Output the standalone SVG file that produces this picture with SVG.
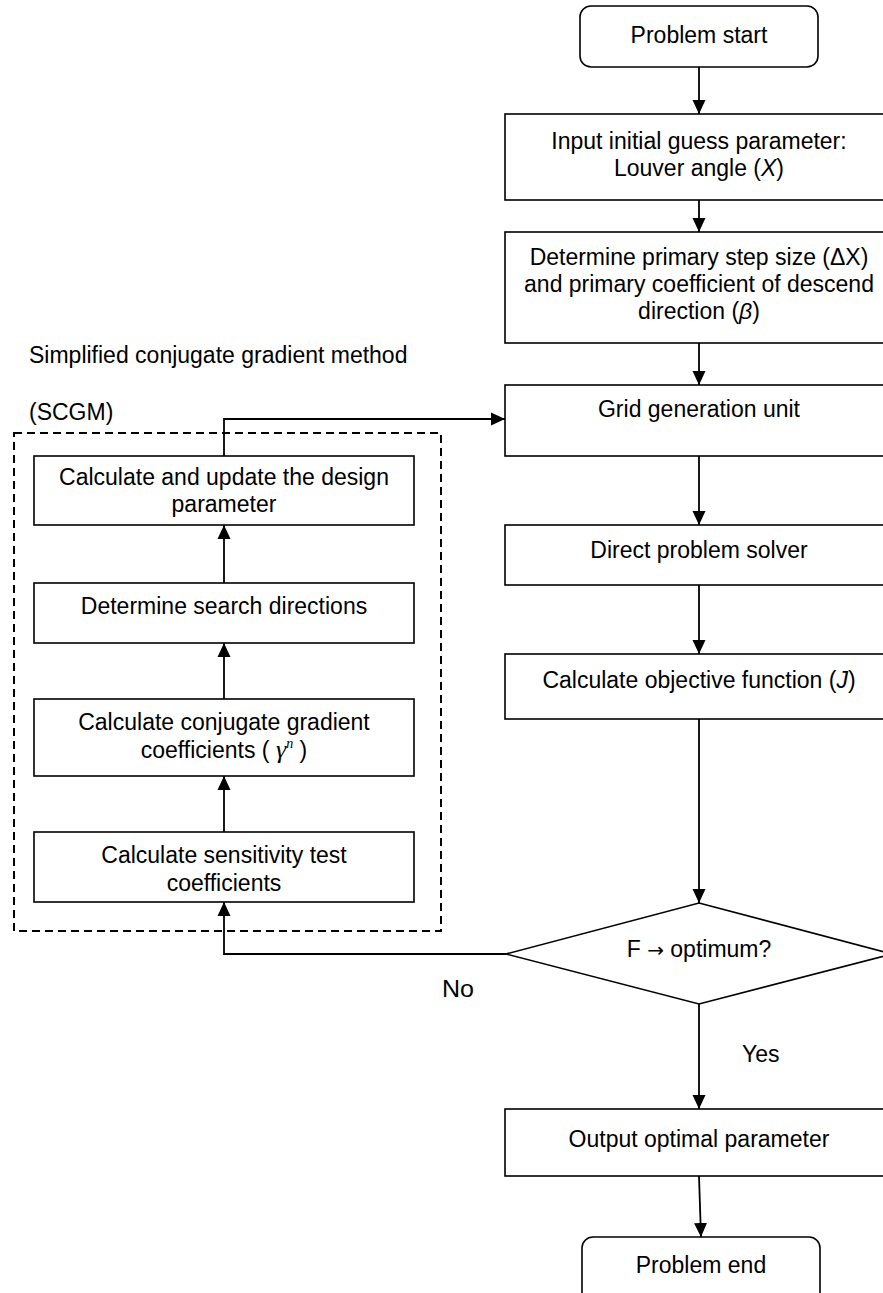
<svg xmlns="http://www.w3.org/2000/svg" width="883" height="1293" viewBox="0 0 883 1293">
<style>
.box{fill:#fff;stroke:#000;stroke-width:1.6}
.t{font-family:"Liberation Sans",Arial,sans-serif;font-size:23px;fill:#000;text-anchor:middle}
.tl{font-family:"Liberation Sans",Arial,sans-serif;font-size:23px;fill:#000}
.c{fill:none;stroke:#000;stroke-width:1.8}
.i{font-style:italic}
.g{font-family:"Liberation Serif","Times New Roman",serif;font-style:italic}
</style>
<defs>
<marker id="ah" markerUnits="userSpaceOnUse" markerWidth="15" markerHeight="15" viewBox="0 0 15 15" refX="14" refY="7" orient="auto">
<path d="M0,0.5 L14,7 L0,13.5 Z" fill="#000"/>
</marker>
</defs>
<rect width="883" height="1293" fill="#fff"/>

<g id="scgm-label">
<text class="tl" x="29" y="363">Simplified conjugate gradient method</text>
<text class="tl" x="29" y="420">(SCGM)</text>
</g>
<g id="scgm-frame">
<rect x="14" y="433" width="427" height="498" fill="none" stroke="#000" stroke-width="2" stroke-dasharray="8 5"/>
</g>

<g id="start">
<rect class="box" x="580" y="6" width="238" height="61" rx="11"/>
<text class="t" x="699" y="43">Problem start</text>
</g>
<g id="input">
<rect class="box" x="505" y="114" width="400" height="86"/>
<text class="t" x="699" y="149">Input initial guess parameter:</text>
<text class="t" x="699" y="176">Louver angle (<tspan class="i">X</tspan>)</text>
</g>
<g id="determine">
<rect class="box" x="505" y="232" width="400" height="111"/>
<text class="t" x="699" y="265">Determine primary step size (ΔX)</text>
<text class="t" x="699" y="292">and primary coefficient of descend</text>
<text class="t" x="699" y="319">direction (<tspan class="i">β</tspan>)</text>
</g>
<g id="grid">
<rect class="box" x="505" y="385" width="400" height="71"/>
<text class="t" x="699" y="417">Grid generation unit</text>
</g>
<g id="direct">
<rect class="box" x="505" y="525" width="400" height="60"/>
<text class="t" x="699" y="558">Direct problem solver</text>
</g>
<g id="objective">
<rect class="box" x="505" y="654" width="400" height="65"/>
<text class="t" x="699" y="688">Calculate objective function (<tspan class="i">J</tspan>)</text>
</g>
<g id="decision">
<polygon class="box" points="699,903 892,954 699,1004 506,954"/>
<text class="t" x="699" y="957">F <tspan font-family="DejaVu Sans, sans-serif" font-size="20">→</tspan> optimum?</text>
</g>
<g id="output">
<rect class="box" x="505" y="1109" width="400" height="67"/>
<text class="t" x="699" y="1147">Output optimal parameter</text>
</g>
<g id="end">
<rect class="box" x="582" y="1237" width="238" height="70" rx="11"/>
<text class="t" x="701" y="1273">Problem end</text>
</g>

<g id="update">
<rect class="box" x="34" y="456" width="380" height="69"/>
<text class="t" x="224" y="485">Calculate and update the design</text>
<text class="t" x="224" y="512">parameter</text>
</g>
<g id="search">
<rect class="box" x="34" y="583" width="380" height="60"/>
<text class="t" x="224" y="614">Determine search directions</text>
</g>
<g id="conjugate">
<rect class="box" x="34" y="699" width="380" height="77"/>
<text class="t" x="224" y="730">Calculate conjugate gradient</text>
<text class="t" x="224" y="758">coefficients (<tspan class="g" font-size="26"> γ</tspan><tspan class="g" font-size="14" dy="-10">n</tspan><tspan dy="10"> )</tspan></text>
</g>
<g id="sensitivity">
<rect class="box" x="34" y="832" width="380" height="70"/>
<text class="t" x="224" y="863">Calculate sensitivity test</text>
<text class="t" x="224" y="891">coefficients</text>
</g>

<g id="connectors">
<line class="c" x1="699" y1="67" x2="699" y2="114" marker-end="url(#ah)"/>
<line class="c" x1="699" y1="200" x2="699" y2="232" marker-end="url(#ah)"/>
<line class="c" x1="699" y1="343" x2="699" y2="385" marker-end="url(#ah)"/>
<line class="c" x1="699" y1="456" x2="699" y2="525" marker-end="url(#ah)"/>
<line class="c" x1="699" y1="585" x2="699" y2="654" marker-end="url(#ah)"/>
<line class="c" x1="699" y1="719" x2="699" y2="903" marker-end="url(#ah)"/>
<line class="c" x1="699" y1="1004" x2="699" y2="1109" marker-end="url(#ah)"/>
<line class="c" x1="699" y1="1176" x2="701" y2="1237" marker-end="url(#ah)"/>
<polyline class="c" points="224,456 224,419 505,419" marker-end="url(#ah)"/>
<line class="c" x1="224" y1="583" x2="224" y2="525" marker-end="url(#ah)"/>
<line class="c" x1="224" y1="699" x2="224" y2="643" marker-end="url(#ah)"/>
<line class="c" x1="224" y1="832" x2="224" y2="776" marker-end="url(#ah)"/>
<polyline class="c" points="506,954 224,954 224,902" marker-end="url(#ah)"/>
</g>
<g id="labels">
<text class="tl" x="442" y="997" font-size="30" textLength="32" lengthAdjust="spacingAndGlyphs">No</text>
<text class="tl" x="742" y="1062" font-size="26">Yes</text>
</g>
</svg>
